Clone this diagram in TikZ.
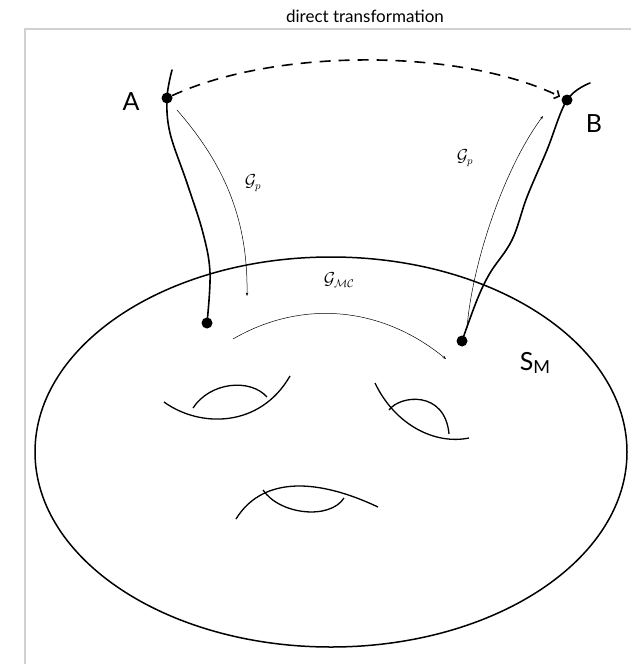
\documentclass[tikz,border=0pt]{standalone}
\usepackage{fontspec}
\setsansfont{Lato}
\usetikzlibrary{arrows.meta}
\tikzset{
  curve/.style = {line width = 1.6pt, line cap = round},
  thin arrow/.style = {line width = 0.5pt, -{Stealth[length = 3.5pt, width = 2.5pt]}},
  handle/.style = {line width = 1.3pt},
  dot/.style = {circle, fill = black, inner sep = 0pt, minimum size = 11pt},
  big label/.style = {font = \sffamily\fontsize{25}{25}\selectfont},
  map label/.style = {font = \fontsize{16}{16}\selectfont}
}
\begin{document}
\begin{tikzpicture}[x = 1pt, y = -1pt, draw = black]
\useasboundingbox (0,0) rectangle (631,664);
\node[font = \sffamily\fontsize{17}{17}\selectfont] (title) at (365,16) {direct transformation};
\draw[black!18, line width = 1.2pt] (25,664) -- (25,29) -- (631,29);
% the manifold
\draw[line width = 1.5pt] (331,452) ellipse [x radius = 296, y radius = 195];
\node[big label] (SM) at (535,363) {S\raisebox{-0.12em}{\fontsize{18}{18}\selectfont M}};
% handles
\draw[handle] (164,402) .. controls (200,428) and (260,428) .. (290,376);
\draw[handle] (193,408) .. controls (210,382) and (250,378) .. (267,397);
\draw[handle] (375,383) .. controls (395,425) and (435,445) .. (469,438);
\draw[handle] (389,410) .. controls (400,395) and (445,390) .. (449,434);
\draw[handle] (236,519) .. controls (260,480) and (310,475) .. (378,507);
\draw[handle] (263,490) .. controls (280,515) and (330,520) .. (344,498);
% fibres through A and B
\coordinate (topA) at (172,70);
\coordinate (topB) at (590,83);
\node[dot] (dotA) at (167,98) {};
\node[dot] (dotL) at (207,323) {};
\node[dot] (dotB) at (567,100) {};
\node[dot] (dotR) at (462,341) {};
\draw[curve] plot[smooth, tension = 0.6] coordinates {(topA) (dotA) (170,133) (187,183) (203,233) (210,273) (dotL)};
\draw[curve] plot[smooth, tension = 0.6] coordinates {(topB) (dotB) (547,150) (527,197) (512,240) (490,273) (477,300) (dotR)};
\node[big label] (A) at (131,102) {A};
\node[big label] (B) at (594,124) {B};
% direct transformation
\draw[line width = 1.6pt, dash pattern = on 11pt off 8pt, -{Straight Barb[length = 4pt, width = 9pt]}, shorten > = 2pt]
  (dotA) .. controls (275,48) and (460,48) .. (dotB);
% projections
\coordinate (startL) at (177,110);
\coordinate (endL) at (247,296);
\coordinate (startR) at (467,328);
\coordinate (endR) at (543,116);
\draw[thin arrow] (startL) .. controls (225,165) and (248,220) .. (endL);
\draw[thin arrow] (startR) .. controls (472,265) and (503,170) .. (endR);
\node[map label] (GpL) at (253,183) {$\mathcal{G}_p$};
\node[map label] (GpR) at (465,158) {$\mathcal{G}_p$};
% move on the manifold
\coordinate (startMC) at (233,339);
\coordinate (endMC) at (446,359);
\draw[thin arrow] (startMC) .. controls (300,300) and (380,305) .. (endMC);
\node[map label] (GMC) at (339,280) {$\mathcal{G}_{\mathcal{M}\mathcal{C}}$};
\end{tikzpicture}
\end{document}
